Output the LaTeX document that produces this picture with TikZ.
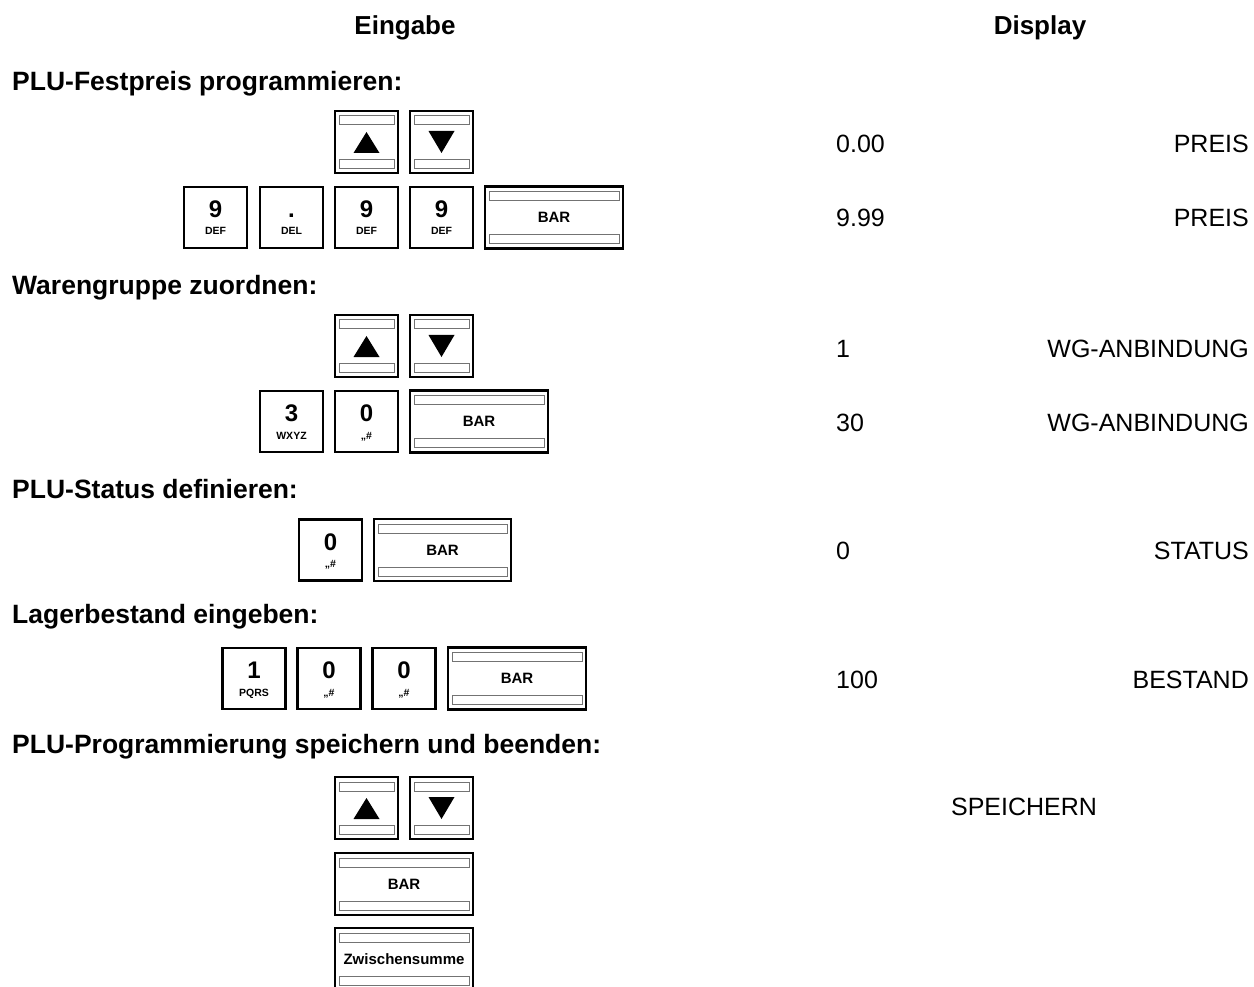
\documentclass[tikz,border=0pt]{standalone}
\usepackage{fontspec}
\setmainfont{Liberation Sans}
\tikzset{
 keyfr/.style={draw=black, line width=2.2pt, fill=white, inner sep=0pt, minimum width=63pt, minimum height=62pt},
 barln/.style={draw=black!55, line width=0.8pt, fill=white},
 head/.style={font=\bfseries\fontsize{26.5}{30}\selectfont, anchor=base west, inner sep=0pt},
 colhead/.style={font=\bfseries\fontsize{26}{30}\selectfont, anchor=base, inner sep=0pt},
 disp/.style={font=\fontsize{25}{30}\selectfont, anchor=base west, inner sep=0pt},
 dispr/.style={font=\fontsize{25}{30}\selectfont, anchor=base east, inner sep=0pt},
 bigtxt/.style={font=\bfseries\fontsize{24}{28}\selectfont, inner sep=0pt, anchor=base},
 smalltxt/.style={font=\bfseries\fontsize{10.5}{12}\selectfont, inner sep=0pt, anchor=base},
 keytxt/.style={font=\bfseries\fontsize{15}{18}\selectfont, inner sep=0pt},
}
\newcommand{\barkey}[4]{%
 \node[keyfr, minimum width=#4] (#1) at (#2,#3) {};
 \draw[barln] ([xshift=5pt,yshift=-6pt]#1.north west) rectangle ([xshift=-5pt,yshift=-15pt]#1.north east);
 \draw[barln] ([xshift=5pt,yshift=6pt]#1.south west) rectangle ([xshift=-5pt,yshift=15pt]#1.south east);
}
\newcommand{\txtkey}[5]{%
 \barkey{#1}{#2}{#3}{#4}
 \node[keytxt] (#1-t) at (#1.center) {#5};
}
\newcommand{\upkey}[3]{%
 \barkey{#1}{#2}{#3}{63pt}
 \fill ([yshift=10pt]#1.center) -- ([xshift=-13pt,yshift=-11pt]#1.center) -- ([xshift=13pt,yshift=-11pt]#1.center) -- cycle;
}
\newcommand{\downkey}[3]{%
 \barkey{#1}{#2}{#3}{63pt}
 \fill ([yshift=-11pt]#1.center) -- ([xshift=-13pt,yshift=11pt]#1.center) -- ([xshift=13pt,yshift=11pt]#1.center) -- cycle;
}
\newcommand{\numkey}[5]{%
 \node[keyfr, minimum height=61pt] (#1) at (#2,#3) {};
 \node[bigtxt] (#1-a) at (#1.center) {#4};
 \node[smalltxt] (#1-b) at ([yshift=-17.5pt]#1.center) {#5};
}
\begin{document}
\begin{tikzpicture}[x=1pt,y=-1pt]
\useasboundingbox[fill=white] (0,0) rectangle (1254,987);

% column headings
\node[colhead] (eingabe) at (405,35) {Eingabe};
\node[colhead] (display) at (1040,35) {Display};

% section headings
\node[head] (h1) at (12,91) {PLU-Festpreis programmieren:};
\node[head] (h2) at (12,295) {Warengruppe zuordnen:};
\node[head] (h3) at (12,498) {PLU-Status definieren:};
\node[head] (h4) at (12,623) {Lagerbestand eingeben:};
\node[head] (h5) at (12,753) {PLU-Programmierung speichern und beenden:};

% section 1
\upkey{u1}{366.5}{142}
\downkey{d1}{441.5}{142}
\numkey{k11}{215.5}{217.5}{9}{DEF}
\numkey{k12}{291.5}{217.5}{.}{DEL}
\numkey{k13}{366.5}{217.5}{9}{DEF}
\numkey{k14}{441.5}{217.5}{9}{DEF}
\txtkey{b1}{554}{217.5}{138pt}{BAR}
\node[disp] (v11) at (836,153) {0.00};
\node[dispr] (w11) at (1249,153) {PREIS};
\node[disp] (v12) at (836,227) {9.99};
\node[dispr] (w12) at (1249,227) {PREIS};

% section 2
\upkey{u2}{366.5}{346}
\downkey{d2}{441.5}{346}
\numkey{k21}{291.5}{421.5}{3}{WXYZ}
\numkey{k22}{366.5}{421.5}{0}{„\#}
\txtkey{b2}{479}{421.5}{138pt}{BAR}
\node[disp] (v21) at (836,357) {1};
\node[dispr] (w21) at (1249,357) {WG-ANBINDUNG};
\node[disp] (v22) at (836,431) {30};
\node[dispr] (w22) at (1249,431) {WG-ANBINDUNG};

% section 3
\numkey{k31}{330.5}{550}{0}{„\#}
\txtkey{b3}{442.5}{550}{137pt}{BAR}
\node[disp] (v31) at (836,559) {0};
\node[dispr] (w31) at (1249,559) {STATUS};

% section 4
\numkey{k41}{254}{678.5}{1}{PQRS}
\numkey{k42}{329}{678.5}{0}{„\#}
\numkey{k43}{404}{678.5}{0}{„\#}
\txtkey{b4}{517}{678.5}{138pt}{BAR}
\node[disp] (v41) at (836,688) {100};
\node[dispr] (w41) at (1249,688) {BESTAND};

% section 5
\upkey{u5}{366.5}{808}
\downkey{d5}{441.5}{808}
\txtkey{b5}{404}{884}{138pt}{BAR}
\txtkey{z5}{404}{959}{138pt}{Zwischensumme}
\node[font=\fontsize{25}{30}\selectfont, anchor=base, inner sep=0pt] (v51) at (1024,815) {SPEICHERN};
\end{tikzpicture}
\end{document}
